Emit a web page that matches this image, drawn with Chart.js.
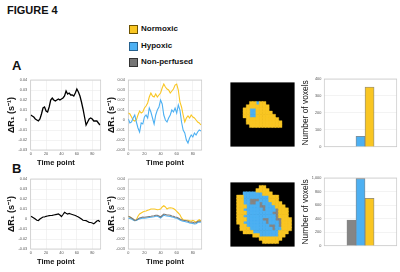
<!DOCTYPE html>
<html><head><meta charset="utf-8">
<script src="https://cdn.jsdelivr.net/npm/chart.js@4.4.1/dist/chart.umd.min.js"></script>
<style>
html,body{margin:0;padding:0;background:#fff}
body{position:relative;width:400px;height:272px;overflow:hidden;font-family:"Liberation Sans",Arial,Helvetica,sans-serif;color:#111}
.t{position:absolute;font-weight:bold;line-height:1;white-space:nowrap}
.sw{position:absolute;width:7px;height:7px;border:1px solid}
canvas{position:absolute}
</style></head><body>
<div class="t" style="left:7px;top:4.6px;font-size:11px">FIGURE 4</div>
<div class="sw" style="left:129px;top:25px;background:#F9C623;border-color:#6e5300"></div>
<div class="t" style="left:141px;top:25.1px;font-size:8px">Normoxic</div>
<div class="sw" style="left:129px;top:41.7px;background:#4DB0F2;border-color:#25618f"></div>
<div class="t" style="left:141px;top:41.6px;font-size:8px">Hypoxic</div>
<div class="sw" style="left:129px;top:58.3px;background:#767676;border-color:#333"></div>
<div class="t" style="left:141px;top:58.3px;font-size:8px">Non-perfused</div>
<div class="t" style="left:12px;top:59.3px;font-size:13px">A</div>
<div class="t" style="left:12px;top:162.3px;font-size:13px">B</div>
<canvas id="a1"></canvas><canvas id="a2"></canvas><canvas id="amap"></canvas><canvas id="abar"></canvas>
<canvas id="b1"></canvas><canvas id="b2"></canvas><canvas id="bmap"></canvas><canvas id="bbar"></canvas>
<script>
// ---------- data ----------
const timePoints = [0,2,4,6,8,10,12,14,16,18,20,22,24,26,28,30,32,34,36,38,40,42,44,46,48,50,52,54,56,58,60,62,64,66,68,70,72,74,76,78,80,82,84,86,88,90];
const xTicksTime = [0,20,40,60,80];
const yTicksR1 = [-0.03,-0.02,-0.01,0,0.01,0.02,0.03,0.04];

const dR1_A_whole = [0.005,0.004,0.003,0.001,0.000,-0.001,0.001,0.006,0.012,0.013,0.009,0.008,0.013,0.020,0.022,0.020,0.019,0.020,0.021,0.020,0.021,0.022,0.024,0.029,0.026,0.027,0.025,0.025,0.024,0.027,0.031,0.028,0.024,0.018,0.011,0.003,-0.005,-0.002,0.001,0.002,0.001,-0.001,-0.001,-0.001,-0.003,-0.005];
const dR1_A_normoxic = [0.007,0.006,0.003,0.000,-0.001,0.000,0.005,0.009,0.007,0.008,0.012,0.014,0.017,0.023,0.027,0.024,0.023,0.026,0.023,0.025,0.027,0.032,0.036,0.033,0.031,0.030,0.027,0.029,0.031,0.035,0.036,0.030,0.018,0.013,0.005,-0.002,0.002,0.004,0.002,0.005,0.003,0.002,0.000,-0.002,-0.003,-0.005];
const dR1_A_hypoxic = [0.001,-0.003,-0.002,0.002,0.005,-0.002,-0.008,-0.012,-0.003,-0.004,0.003,0.005,0.002,0.012,0.008,0.002,-0.004,0.005,0.010,0.013,0.020,0.016,0.005,0.000,-0.002,0.002,0.005,0.010,0.008,0.012,0.007,0.015,0.010,-0.002,-0.010,-0.013,-0.020,-0.023,-0.018,-0.015,-0.017,-0.013,-0.015,-0.012,-0.010,-0.011];

const dR1_B_whole = [0.0027,0.002,0.001,0.000,-0.0013,-0.0015,0.000,0.001,0.002,0.002,0.0027,0.003,0.0033,0.0035,0.0037,0.004,0.0043,0.0047,0.005,0.004,0.0025,0.0045,0.0067,0.0057,0.005,0.0055,0.005,0.0045,0.004,0.0035,0.0027,0.002,0.001,0.000,-0.0013,-0.0015,-0.0017,-0.0025,-0.0033,-0.0035,-0.004,-0.0047,-0.0035,-0.002,-0.0015,-0.0027];
const dR1_B_normoxic = [0.0027,0.002,0.001,-0.0005,-0.0017,-0.0007,0.0027,0.005,0.006,0.007,0.0077,0.008,0.0087,0.0093,0.010,0.010,0.010,0.0097,0.0093,0.0095,0.010,0.012,0.0133,0.012,0.010,0.011,0.0113,0.011,0.0105,0.0093,0.0077,0.006,0.0043,0.001,-0.0007,-0.001,-0.0013,-0.0013,-0.0017,-0.0023,-0.0013,-0.0023,-0.0033,-0.0017,-0.0007,-0.002];
const dR1_B_nonperfused = [0.0027,0.002,0.001,0.000,-0.0013,-0.001,0.000,0.001,0.0015,0.002,0.0017,0.002,0.0023,0.0025,0.0027,0.003,0.0033,0.0037,0.0037,0.003,0.002,0.0035,0.005,0.0045,0.004,0.004,0.0037,0.003,0.0027,0.002,0.0017,0.001,0.000,-0.0007,-0.0013,-0.0015,-0.0017,-0.0023,-0.003,-0.0033,-0.0033,-0.004,-0.0035,-0.0025,-0.002,-0.0023];
const dR1_B_hypoxic = [0.001,0.0005,0.000,-0.001,-0.0017,-0.0015,-0.0005,0.000,0.0005,0.001,0.0007,0.001,0.0013,0.0015,0.0017,0.002,0.0023,0.0027,0.0027,0.002,0.001,0.0025,0.0037,0.0033,0.003,0.0027,0.0025,0.002,0.0017,0.001,0.0007,0.000,-0.001,-0.0017,-0.0023,-0.0025,-0.003,-0.0033,-0.004,-0.0043,-0.0045,-0.005,-0.0047,-0.0035,-0.003,-0.0033];

const voxelCategories = ['Non-perfused','Hypoxic','Normoxic'];
const voxelsA = [0,62,353];
const voxelsB = [380,990,700];
const voxelTicksA = [0,100,200,300,400];
const voxelTicksB = [0,200,400,600,800,1000];

// parametric maps: Y = normoxic, B = hypoxic, G = non-perfused, . = background
const mapA = [
"....................",
"....................",
"....................",
"....................",
"....................",
"....................",
"......YYBYY.........",
".....YYYYYYY........",
"....YYBBYYYY........",
"....YYBBYYYYY.......",
"....YYBBYYYYYY......",
".....YYYYYYYYYY.....",
".....YYYYYYYYYYY....",
"......YYYYYYYYYY....",
"....................",
"....................",
"....................",
"....................",
"....................",
"...................."];
const mapB = [
"....................",
".........YY.........",
"........YYYY........",
"....BBBBBBYYY.......",
"..YYBBBBBBBBYYY.....",
"..YYBBGGGBBBYYY.....",
"..YYBBGGBGBBBYYY....",
"..YYYBBBBGGBBBYYY...",
"..YYBBBBBBGBBBGYYY..",
"..YYYBBBBBBBBGGYYY..",
"..YYBBBBBBBBBBGYYY..",
"..YYYBBBBBGGBBGGYYY.",
"..YYBBBBBBBGBBBGYYY.",
"...YYBBBBBBBGGBGYYY.",
"...YYYBBBBBBBGBBYYY.",
"....YYYBBBBBBBBYYY..",
".......YYBBBBBBYY...",
".........YYYYYYY....",
"..........YYYYY.....",
"...................."];

// ---------- styling ----------
const FAMILY = '"Liberation Sans", Arial, Helvetica, sans-serif';
const YELLOW = '#F9C623', BLUE = '#4DB0F2', GREY = '#858585', GREYLINE = '#7a7a7a';
const TICK_FONT = {family: FAMILY, size: 3.8};
const TICK_COLOR = '#555';
const GRID = {color: '#ebebeb', lineWidth: 0.6, drawTicks: false};

const frame = {
  id: 'frame',
  beforeDatasetsDraw(c) {
    const a = c.chartArea, ctx = c.ctx;
    ctx.save(); ctx.strokeStyle = '#c6c6c6'; ctx.lineWidth = 0.7;
    ctx.strokeRect(a.left, a.top, a.right - a.left, a.bottom - a.top);
    ctx.restore();
  }
};
const blackBg = {
  id: 'blackBg',
  beforeDatasetsDraw(c) {
    const a = c.chartArea, ctx = c.ctx;
    ctx.save(); ctx.fillStyle = '#000';
    ctx.fillRect(a.left, a.top, a.right - a.left, a.bottom - a.top);
    ctx.restore();
  }
};

function place(id, box) {
  const cv = document.getElementById(id);
  cv.width = box.w; cv.height = box.h;
  cv.style.left = box.left + 'px'; cv.style.top = box.top + 'px';
  return cv;
}
function fmtR1(v) { const r = Math.round(v * 100) / 100; return r === 0 ? '0' : r.toFixed(2); }

function lineChart(id, box, area, titleCx, series, shiftTitle) {
  const cv = place(id, box);
  const yFont = {family: FAMILY, size: 9, weight: 'bold'};
  const padLeft = titleCx - box.left - yFont.size * 0.6;
  const yW = area.l - box.left - padLeft;
  const xH = box.top + box.h - area.b;
  return new Chart(cv, {
    type: 'line',
    data: {datasets: series.map(s => ({
      data: timePoints.map((t, i) => ({x: t, y: s.values[i]})),
      borderColor: s.color, borderWidth: s.width, pointRadius: 0, tension: 0, fill: false
    }))},
    options: {
      responsive: false, animation: false, events: [],
      layout: {padding: {left: padLeft, top: area.t - box.top, right: box.left + box.w - area.r, bottom: 0}},
      plugins: {legend: {display: false}, tooltip: {enabled: false}},
      scales: {
        x: {type: 'linear', min: 0, max: 91,
          afterBuildTicks: s => { s.ticks = xTicksTime.map(v => ({value: v})); },
          afterFit: s => { s.height = xH; },
          ticks: {font: TICK_FONT, color: TICK_COLOR, padding: 1.5, maxRotation: 0, autoSkip: false},
          grid: GRID, border: {display: false},
          title: {display: true, text: shiftTitle ? '   Time point' : 'Time point', align: shiftTitle ? 'start' : 'center',
            font: {family: FAMILY, size: 7.5, weight: 'bold'}, color: '#111', padding: {top: 0, bottom: 1}}},
        y: {type: 'linear', min: -0.03, max: 0.04,
          afterBuildTicks: s => { s.ticks = yTicksR1.map(v => ({value: v})); },
          afterFit: s => { s.width = yW; },
          ticks: {font: TICK_FONT, color: TICK_COLOR, padding: 3.5, callback: fmtR1},
          grid: GRID, border: {display: false},
          title: {display: true, text: 'ΔR₁ (s⁻¹)', font: yFont, color: '#111', padding: {top: 0, bottom: 0}}}
      }
    },
    plugins: [frame]
  });
}

function barChart(id, box, area, titleCx, values, ticks) {
  const cv = place(id, box);
  const yFont = {family: FAMILY, size: 8.4};
  const padLeft = titleCx - box.left - yFont.size * 0.6;
  const yW = area.l - box.left - padLeft;
  return new Chart(cv, {
    type: 'bar',
    data: {labels: voxelCategories, datasets: [{
      data: values.map((v, i) => ({x: i + 1, y: v})),
      backgroundColor: [GREY, BLUE, YELLOW],
      borderColor: 'rgba(95,95,95,0.75)', borderWidth: 0.8,
      barPercentage: 1, categoryPercentage: 1
    }]},
    options: {
      responsive: false, animation: false, events: [],
      layout: {padding: {left: padLeft, top: area.t - box.top, right: box.left + box.w - area.r, bottom: box.top + box.h - area.b}},
      plugins: {legend: {display: false}, tooltip: {enabled: false}},
      scales: {
        x: {type: 'linear', min: 0, max: 4, display: false},
        y: {type: 'linear', min: ticks[0], max: ticks[ticks.length - 1],
          afterBuildTicks: s => { s.ticks = ticks.map(v => ({value: v})); },
          afterFit: s => { s.width = yW; },
          ticks: {font: TICK_FONT, color: TICK_COLOR, padding: 3},
          grid: GRID, border: {display: false},
          title: {display: true, text: 'Number of voxels', font: yFont, color: '#111', padding: {top: 0, bottom: 0}}}
      }
    },
    plugins: [frame]
  });
}

function mapChart(id, box, rows) {
  const cv = place(id, box);
  const n = rows.length;
  const cells = {Y: [], B: [], G: []};
  rows.forEach((row, r) => [...row].forEach((ch, c) => { if (cells[ch]) cells[ch].push({x: c + 0.5, y: r + 0.5}); }));
  const rad = (box.w / n) / Math.SQRT2;
  const ds = (pts, col) => ({data: pts, pointStyle: 'rect', pointRadius: rad, backgroundColor: col, borderColor: col, borderWidth: 0.4});
  return new Chart(cv, {
    type: 'scatter',
    data: {datasets: [ds(cells.Y, YELLOW), ds(cells.B, BLUE), ds(cells.G, GREY)]},
    options: {
      responsive: false, animation: false, events: [],
      layout: {padding: 0},
      plugins: {legend: {display: false}, tooltip: {enabled: false}},
      scales: {
        x: {type: 'linear', min: 0, max: n, display: false},
        y: {type: 'linear', min: 0, max: n, reverse: true, display: false}
      }
    },
    plugins: [blackBg]
  });
}

// ---------- row A ----------
lineChart('a1', {left: 0, top: 72, w: 106, h: 96}, {l: 30.7, t: 80, r: 100.7, b: 150}, 12,
  [{values: dR1_A_whole, color: '#000', width: 1.3}], true);
lineChart('a2', {left: 102, top: 72, w: 106, h: 96}, {l: 128.3, t: 80, r: 201.7, b: 150}, 111.5,
  [{values: dR1_A_hypoxic, color: BLUE, width: 1.1}, {values: dR1_A_normoxic, color: YELLOW, width: 1.1}], false);
mapChart('amap', {left: 226, top: 78, w: 73, h: 73}, mapA);
barChart('abar', {left: 298, top: 72, w: 102, h: 80}, {l: 324.3, t: 79, r: 396.7, b: 150}, 306, voxelsA, voxelTicksA);

// ---------- row B ----------
lineChart('b1', {left: 0, top: 171, w: 106, h: 96}, {l: 30.7, t: 179, r: 100.7, b: 249}, 12,
  [{values: dR1_B_whole, color: '#000', width: 1.2}], true);
lineChart('b2', {left: 102, top: 171, w: 106, h: 96}, {l: 128.3, t: 179, r: 201.7, b: 249}, 111.5,
  [{values: dR1_B_nonperfused, color: GREYLINE, width: 1.1}, {values: dR1_B_hypoxic, color: BLUE, width: 1.1}, {values: dR1_B_normoxic, color: YELLOW, width: 1.1}], false);
mapChart('bmap', {left: 226, top: 178, w: 73, h: 73}, mapB);
barChart('bbar', {left: 298, top: 171, w: 102, h: 80}, {l: 324.3, t: 178, r: 396.7, b: 249}, 306, voxelsB, voxelTicksB);
</script>
</body></html>
